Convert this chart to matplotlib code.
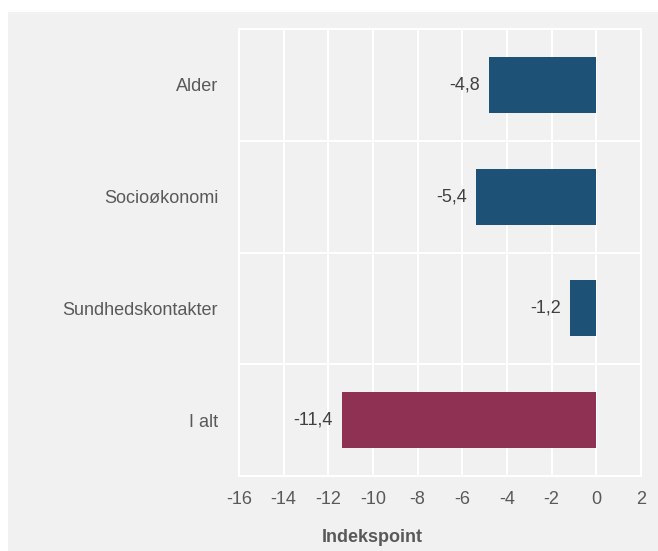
import matplotlib
matplotlib.use("Agg")
import matplotlib.pyplot as plt
from matplotlib.ticker import FixedLocator

plt.rcParams['font.family'] = ['Liberation Sans', 'DejaVu Sans']

categories = ["Alder", "Socioøkonomi", "Sundhedskontakter", "I alt"]
values = [-4.8, -5.4, -1.2, -11.4]
colors = ["#1d5276", "#1d5276", "#1d5276", "#8f3152"]
xticks = [-16, -14, -12, -10, -8, -6, -4, -2, 0, 2]

W, H = 658, 551
fig = plt.figure(figsize=(W / 100, H / 100), dpi=100, facecolor="white")
bg = "#f1f1f1"
fig.patches.append(plt.Rectangle((8 / W, 0), 1, 1 - 12 / H, transform=fig.transFigure,
                                 facecolor=bg, edgecolor="none", zorder=-10))

ax = fig.add_axes([239 / W, 1 - 476 / H, (641 - 239) / W, (476 - 29) / H])
ax.set_facecolor(bg)

ypos = list(range(len(categories)))
ax.barh(ypos, values, height=0.5, color=colors, zorder=3)
for y, v in zip(ypos, values):
    ax.annotate(f"{v:.1f}".replace(".", ","), xy=(v, y), xytext=(-6.5, 0),
                textcoords="offset points", ha="right", va="center",
                fontsize=13, color="#404040")

ax.set_xlim(-16, 2)
ax.set_ylim(3.5, -0.5)
ax.set_xticks(xticks)
ax.set_xticklabels([str(t) for t in xticks])
ax.set_yticks(ypos)
ax.set_yticklabels(categories)
ax.yaxis.set_minor_locator(FixedLocator([0.5, 1.5, 2.5]))
ax.grid(axis="x", which="major", color="white", linewidth=1.5, zorder=0)
ax.grid(axis="y", which="minor", color="white", linewidth=1.5, zorder=0)
ax.tick_params(axis="both", which="both", length=0, labelsize=13, colors="#595959")
ax.tick_params(axis="x", pad=11)
ax.tick_params(axis="y", pad=15)
for s in ax.spines.values():
    s.set_color("white")
    s.set_linewidth(1.5)

fig.text(372 / W, 1 - 537 / H, "Indekspoint", ha="center", va="center",
         fontsize=13, fontweight="bold", color="#595959")

fig.savefig("out.png", dpi=100, facecolor="white")
